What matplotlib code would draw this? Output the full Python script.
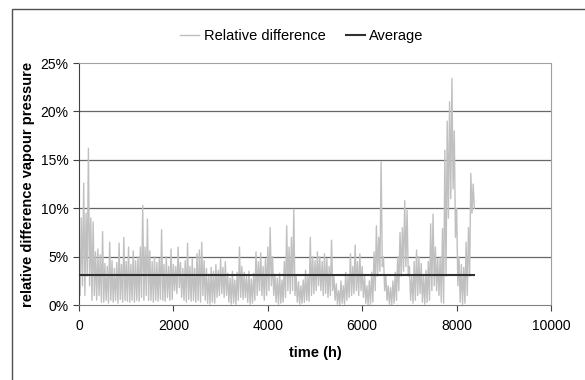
import numpy as np
import matplotlib
matplotlib.use("Agg")
import matplotlib.pyplot as plt
from matplotlib.patches import Rectangle
from matplotlib.ticker import FuncFormatter

plt.rcParams['font.family'] = ['Liberation Sans', 'DejaVu Sans']

# time of each 50 h block (h)
block_start = np.arange(0, 8400, 50)

# upper and lower values (%) of the relative difference inside each 50 h block
rel_hi = [
    6.0, 9.0, 12.6, 9.5, 16.2, 9.0, 8.6, 5.5, 5.8, 5.2,
    7.6, 4.3, 4.0, 6.5, 4.6, 3.8, 4.4, 6.4, 4.2, 7.0,
    4.5, 6.0, 4.2, 5.6, 4.6, 5.0, 6.0, 10.3, 6.0, 8.9,
    5.6, 4.5, 5.0, 4.4, 4.8, 7.8, 4.2, 5.0, 4.0, 5.8,
    4.2, 4.0, 6.0, 4.4, 3.8, 4.6, 6.4, 4.0, 4.8, 3.8,
    5.3, 5.7, 6.5, 4.6, 3.8, 3.2, 3.9, 3.5, 4.2, 3.6,
    4.8, 3.9, 4.5, 3.3, 2.8, 3.5, 2.6, 3.4, 6.0, 4.0,
    3.4, 3.0, 3.5, 2.7, 3.3, 5.5, 4.5, 5.4, 4.0, 4.8,
    6.0, 8.0, 5.0, 3.2, 2.8, 3.3, 2.6, 4.5, 8.2, 6.0,
    7.0, 9.9, 3.0, 2.4, 2.0, 2.6, 3.6, 3.0, 7.0, 5.0,
    4.6, 5.5, 5.0, 4.5, 5.3, 4.8, 4.0, 6.7, 3.0, 2.2,
    1.5, 2.5, 2.0, 3.4, 3.0, 5.3, 4.0, 6.2, 4.5, 5.3,
    4.0, 3.0, 2.0, 2.5, 3.4, 5.5, 8.2, 7.0, 14.8, 5.0,
    3.0, 2.0, 1.8, 2.5, 3.4, 5.0, 7.5, 8.0, 10.8, 9.8,
    4.0, 3.0, 4.5, 5.7, 5.0, 4.3, 3.0, 3.6, 4.5, 8.4,
    9.4, 6.0, 4.8, 5.0, 7.9, 16.0, 19.0, 21.0, 23.4, 18.0,
    10.0, 5.0, 4.2, 3.9, 6.5, 8.0, 13.6, 12.5,
]
rel_lo = [
    1.0, 2.0, 1.0, 3.0, 2.0, 0.5, 1.0, 0.5, 1.0, 0.3,
    0.3, 0.5, 0.2, 0.5, 0.3, 0.5, 0.2, 0.6, 0.3, 0.5,
    0.4, 0.3, 0.5, 0.3, 0.5, 0.4, 0.8, 0.5, 1.0, 0.5,
    0.5, 0.3, 0.5, 0.4, 0.6, 0.5, 0.4, 0.8, 0.5, 0.6,
    1.5, 1.2, 1.8, 0.8, 0.5, 0.3, 0.6, 0.4, 0.5, 0.3,
    0.5, 0.3, 1.0, 0.5, 0.2, 0.1, 0.3, 0.2, 0.8, 1.0,
    1.2, 0.8, 1.0, 0.3, 0.1, 0.2, 0.1, 0.5, 0.8, 0.6,
    0.8, 0.3, 0.1, 0.2, 0.5, 1.0, 1.5, 1.0, 0.5, 1.0,
    1.5, 2.0, 1.0, 0.3, 0.1, 0.2, 0.3, 0.8, 1.5, 1.2,
    1.5, 1.0, 0.3, 0.1, 0.2, 0.3, 0.5, 0.4, 1.0, 1.2,
    1.5, 2.0, 1.5, 1.0, 1.2, 0.8, 1.0, 1.5, 0.5, 0.1,
    0.0, 0.2, 0.1, 0.5, 0.8, 1.0, 1.2, 1.5, 1.0, 1.5,
    0.8, 0.2, 0.0, 0.1, 0.3, 1.5, 3.0, 3.5, 4.0, 1.5,
    0.5, 0.1, 0.0, 0.2, 0.5, 1.5, 3.0, 3.5, 4.0, 3.0,
    0.5, 0.2, 0.5, 1.0, 1.2, 0.3, 0.1, 0.3, 0.5, 1.5,
    2.0, 1.5, 1.0, 0.3, 0.2, 3.0, 9.0, 11.0, 12.0, 7.0,
    2.0, 0.3, 0.1, 0.2, 1.0, 3.0, 9.5, 10.0,
]

avg_value = 3.1          # %
avg_span = [0, 8370]     # h

x_ticks = [0, 2000, 4000, 6000, 8000, 10000]
y_ticks = [0, 5, 10, 15, 20, 25]

# each block gives its high value at the start and its low value half way
t = np.column_stack([block_start, block_start + 25]).ravel()
rel = np.column_stack([rel_hi, rel_lo]).ravel()

fig = plt.figure(figsize=(5.85, 3.8), dpi=100)
ax = fig.add_axes([0.135, 0.197, 0.807, 0.637])

ax.plot(t, rel, color='#c0c0c0', linewidth=1.0, label='Relative difference', zorder=2)
ax.plot(avg_span, [avg_value, avg_value], color='#303030', linewidth=1.5, label='Average', zorder=3)

ax.set_xlim(0, 10000)
ax.set_ylim(0, 25)
ax.set_xticks(x_ticks)
ax.set_yticks(y_ticks)
ax.yaxis.set_major_formatter(FuncFormatter(lambda v, p: f'{v:.0f}%'))
ax.tick_params(axis='both', direction='out', length=4, width=0.8, labelsize=10, colors='#404040', labelcolor='black')
ax.tick_params(axis='x', pad=6)

for yv in y_ticks[1:-1]:
    ax.axhline(yv, color='#666666', linewidth=0.9, zorder=1)

ax.spines['left'].set_color('#404040')
ax.spines['bottom'].set_color('#808080')
ax.spines['top'].set_color('#a0a0a0')
ax.spines['right'].set_color('#a0a0a0')

ax.set_xlabel('time (h)', fontsize=10.5, fontweight='bold', labelpad=9)
ax.set_ylabel('relative difference vapour pressure', fontsize=10.5, fontweight='bold', labelpad=4)

fig.legend(loc='center', bbox_to_anchor=(0.516, 0.905), ncol=2, frameon=False, fontsize=10.5,
           handlelength=1.3, handletextpad=0.3, columnspacing=1.4)

# outer chart border (only the left and top edges fall inside the picture)
fig.patches.append(Rectangle((12 / 585, -0.1), 1.2, 371 / 380 + 0.1, transform=fig.transFigure,
                             fill=False, edgecolor='#505050', linewidth=1.0))

fig.savefig('out.png', dpi=100)
